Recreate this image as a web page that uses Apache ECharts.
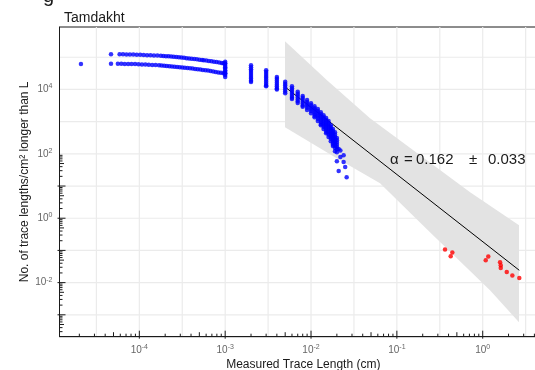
<!DOCTYPE html>
<html><head><meta charset="utf-8">
<script src="https://cdn.jsdelivr.net/npm/echarts@6/dist/echarts.min.js"></script>
<style>html,body{margin:0;padding:0;background:#fff}#c{width:535px;height:370px}</style>
</head><body><div id="c"></div>
<script>
// ---------- texts ----------
const titleText = 'Tamdakht';
const xAxisTitle = 'Measured Trace Length (cm)';
const yAxisTitle = 'No. of trace lengths/cm\u00B2 longer than L';
const xLabelExponents = [-4, -3, -2, -1, 0];
const yLabelExponents = [-2, 0, 2, 4];
const xGridValues = [-4.5, -4, -3.5, -3, -2.5, -2, -1.5, -1, -0.5, 0, 0.5];
const yGridValues = [-3, -2, -1, 0, 1, 2, 3, 4, 5];

// ---------- data, all as [log10 L (cm), log10 N (per cm2)] ----------
const blueIsolated = [[-4.68, 4.79], [-4.33, 5.09], [-4.33, 4.80]];
const blueBandUpper = [
  [-4.23,5.090],[-4.19,5.090],[-4.15,5.088],[-4.11,5.085],[-4.07,5.083],[-4.03,5.078],[-3.99,5.075],
  [-3.95,5.071],[-3.91,5.066],[-3.87,5.061],[-3.83,5.057],[-3.79,5.053],[-3.75,5.048],[-3.72,5.042],
  [-3.69,5.035],[-3.66,5.028],[-3.63,5.021],[-3.60,5.013],[-3.57,5.006],[-3.54,4.998],[-3.51,4.990],
  [-3.48,4.982],[-3.45,4.973],[-3.42,4.964],[-3.39,4.955],[-3.36,4.945],[-3.33,4.936],[-3.30,4.926],
  [-3.27,4.916],[-3.25,4.910],[-3.22,4.898],[-3.19,4.886],[-3.16,4.874],[-3.13,4.862],[-3.10,4.849],
  [-3.07,4.836],[-3.04,4.822],[-3.02,4.814],[-3.00,4.808]
];
const blueBandLower = [
  [-4.25,4.797],[-4.21,4.796],[-4.17,4.794],[-4.13,4.792],[-4.09,4.790],[-4.05,4.787],[-4.01,4.784],
  [-3.97,4.779],[-3.93,4.774],[-3.89,4.768],[-3.85,4.762],[-3.81,4.756],[-3.77,4.751],[-3.74,4.745],
  [-3.71,4.738],[-3.68,4.730],[-3.65,4.722],[-3.62,4.714],[-3.59,4.706],[-3.56,4.698],[-3.53,4.690],
  [-3.50,4.684],[-3.47,4.675],[-3.44,4.666],[-3.41,4.657],[-3.38,4.648],[-3.35,4.638],[-3.32,4.628],
  [-3.29,4.618],[-3.26,4.608],[-3.23,4.597],[-3.20,4.585],[-3.17,4.572],[-3.14,4.559],[-3.11,4.545],
  [-3.08,4.530],[-3.05,4.516],[-3.02,4.503],[-3.00,4.497]
];
// trace lengths measured in steps of 1e-3 cm: log10 L of each column and its log10 N values
const blueColumnL = [-3.0, -2.699, -2.523, -2.398, -2.301, -2.222, -2.155, -2.097, -2.046, -2.0,
  -1.959, -1.921, -1.886, -1.854, -1.824, -1.796, -1.770, -1.745, -1.721, -1.699, -1.678, -1.658, -1.620, -1.602, -1.585];
const blueColumnN = [
  [4.86,4.80,4.74,4.69,4.65,4.60,4.55,4.50,4.45,4.39],
  [4.75,4.69,4.63,4.57,4.51,4.45,4.39,4.33,4.27,4.23],
  [4.60,4.54,4.48,4.42,4.36,4.30,4.24,4.18,4.12,4.10],
  [4.39,4.33,4.27,4.21,4.15,4.09,4.03,4.00],
  [4.24,4.18,4.12,4.06,4.00,3.94,3.88],
  [4.10,4.04,3.98,3.92,3.86,3.80,3.74,3.70],
  [3.93,3.87,3.81,3.75,3.69,3.63,3.58],
  [3.80,3.74,3.68,3.62,3.56,3.50,3.46],
  [3.67,3.61,3.55,3.49,3.43,3.36],
  [3.57,3.51,3.45,3.39,3.33,3.26],
  [3.48,3.42,3.36,3.30,3.24,3.18,3.14],
  [3.39,3.33,3.27,3.21,3.15,3.09,3.02],
  [3.29,3.23,3.17,3.11,3.05,2.99,2.93,2.89],
  [3.20,3.14,3.08,3.02,2.96,2.90,2.84,2.77],
  [3.11,3.05,2.99,2.93,2.87,2.81,2.75,2.69,2.64],
  [3.02,2.96,2.90,2.84,2.78,2.72,2.66,2.60,2.52],
  [2.89,2.83,2.77,2.71,2.65,2.59,2.53,2.47,2.39],
  [2.77,2.71,2.65,2.59,2.53,2.47,2.41,2.35,2.29,2.24],
  [2.67,2.60,2.53,2.46,2.39,2.32,2.25,2.18,2.08],
  [2.49,2.42,2.35,2.28,2.21,2.14,2.05,1.77],
  [2.15,1.47],
  [2.10,1.90],
  [1.96,1.75],
  [1.59],
  [1.27]
];
const redPoints = [
  [-0.439,-0.974],[-0.354,-1.067],[-0.373,-1.182],[0.065,-1.191],[0.035,-1.306],[0.202,-1.368],
  [0.210,-1.461],[0.210,-1.546],[0.280,-1.670],[0.345,-1.782],[0.426,-1.856]
];
const fitLine = [[-2.295, 4.062], [0.426, -1.617]];
const bandUpper = [[-2.303,5.501],[-1.814,4.289],[-1.313,3.108],[-0.730,1.958],[-0.147,0.808],[0.423,-0.218]];
const bandLower = [[-2.303,2.828],[-1.720,1.896],[-1.196,1.087],[-0.614,-0.436],[0.085,-2.239],[0.423,-3.234]];
const alphaValue = '0.162';
const alphaError = '0.033';

// ---------- layout ----------
const XMIN = -4.93, XMAX = 0.75, YMIN = -3.68, YMAX = 5.94;
const FONT = '"Liberation Sans", Arial, Helvetica, sans-serif';
const LABEL_COLOR = '#666';

const blueData = [].concat(blueIsolated, blueBandUpper, blueBandLower);
blueColumnL.forEach((l, i) => blueColumnN[i].forEach(n => blueData.push([l, n])));

const chart = echarts.init(document.getElementById('c'), null, {renderer: 'canvas'});

function gridRender(params, api) {
  const ch = [];
  const st = {stroke: '#ebebeb', lineWidth: 1.2};
  xGridValues.forEach(v => {
    const a = api.coord([v, YMIN]), b = api.coord([v, YMAX]);
    ch.push({type: 'line', shape: {x1: a[0], y1: a[1], x2: b[0], y2: b[1]}, style: st});
  });
  yGridValues.forEach(v => {
    const a = api.coord([XMIN, v]), b = api.coord([XMAX, v]);
    ch.push({type: 'line', shape: {x1: a[0], y1: a[1], x2: b[0], y2: b[1]}, style: st});
  });
  return {type: 'group', children: ch};
}

function tickRender(params, api) {
  const ch = [];
  const st = {stroke: '#1a1a1a', lineWidth: 1};
  for (let d = -5; d <= 1; d++) {
    for (let k = 1; k <= 9; k++) {
      const v = d + Math.log10(k);
      const len = k === 1 ? 6 : (k === 5 ? 4.5 : 3);
      if (v > XMIN && v < XMAX) {
        const p = api.coord([v, YMIN]);
        ch.push({type: 'line', shape: {x1: p[0], y1: p[1] + (k === 1 ? 2 : 0), x2: p[0], y2: p[1] - len}, style: st});
      }
      if (v > YMIN && v < YMAX) {
        const p = api.coord([XMIN, v]);
        ch.push({type: 'line', shape: {x1: p[0] - (k === 1 ? 2 : 0), y1: p[1], x2: p[0] + len, y2: p[1]}, style: st});
      }
    }
  }
  return {type: 'group', children: ch};
}

function bandRender(params, api) {
  const pts = bandUpper.map(p => api.coord(p)).concat(bandLower.slice().reverse().map(p => api.coord(p)));
  return {type: 'polygon', shape: {points: pts}, style: {fill: '#e3e3e3', stroke: null}};
}

const supRich = {
  b: {fontSize: 10, color: LABEL_COLOR, fontFamily: FONT},
  s: {fontSize: 7, color: LABEL_COLOR, fontFamily: FONT, verticalAlign: 'bottom', padding: [0, 0, 6, 0]}
};

chart.setOption({
  animation: false,
  backgroundColor: '#fff',
  title: {text: titleText, left: 59, top: 6, textStyle: {fontSize: 14, fontWeight: 'normal', color: '#1a1a1a', fontFamily: FONT}},
  grid: {left: 59.5, top: 27, width: 487.6, height: 309.7, containLabel: false, outerBoundsMode: 'none',
    show: true, borderColor: '#1a1a1a', borderWidth: 1, backgroundColor: 'transparent'},
  xAxis: {
    type: 'value', min: XMIN, max: XMAX,
    splitLine: {show: false}, axisTick: {show: false},
    axisLine: {show: true, onZero: false, lineStyle: {color: '#1a1a1a', width: 1}},
    axisLabel: {customValues: xLabelExponents, margin: 7, formatter: v => '{b|10}{s|' + v + '}', rich: supRich},
    name: xAxisTitle, nameLocation: 'middle', nameGap: 22, nameMoveOverlap: false,
    nameTextStyle: {fontSize: 12, color: '#1a1a1a', fontFamily: FONT}
  },
  yAxis: {
    type: 'value', min: YMIN, max: YMAX,
    splitLine: {show: false}, axisTick: {show: false},
    axisLine: {show: true, onZero: false, lineStyle: {color: '#1a1a1a', width: 1}},
    axisLabel: {customValues: yLabelExponents, margin: 7, formatter: v => '{b|10}{s|' + v + '}', rich: supRich},
    name: yAxisTitle, nameLocation: 'middle', nameGap: 29, nameMoveOverlap: false,
    nameTextStyle: {fontSize: 12, color: '#1a1a1a', fontFamily: FONT}
  },
  graphic: [
    {type: 'text', z: 100, left: 43, top: -14, style: {text: 'g', fontSize: 20, fill: '#1a1a1a', fontFamily: FONT}},
    {type: 'text', z: 100, left: 390, top: 152, style: {text: '\u03B1', fontSize: 15, fill: '#1a1a1a', fontFamily: FONT}},
    {type: 'text', z: 100, left: 404, top: 152, style: {text: '=', fontSize: 15, fill: '#1a1a1a', fontFamily: FONT}},
    {type: 'text', z: 100, left: 416, top: 152, style: {text: alphaValue, fontSize: 15, fill: '#1a1a1a', fontFamily: FONT}},
    {type: 'text', z: 100, left: 469, top: 152, style: {text: '\u00B1', fontSize: 15, fill: '#1a1a1a', fontFamily: FONT}},
    {type: 'text', z: 100, left: 488, top: 152, style: {text: alphaError, fontSize: 15, fill: '#1a1a1a', fontFamily: FONT}}
  ],
  series: [
    {type: 'custom', renderItem: gridRender, data: [0], z: 0, silent: true, clip: false},
    {type: 'custom', renderItem: bandRender, data: [0], z: 1, silent: true},
    {type: 'line', data: fitLine, symbol: 'none', lineStyle: {color: '#000', width: 1}, z: 2, silent: true},
    {type: 'scatter', data: blueData, symbolSize: 4.5, itemStyle: {color: '#0000ff'}, z: 3, silent: true},
    {type: 'scatter', data: redPoints, symbolSize: 4.5, itemStyle: {color: '#ff0000'}, z: 3, silent: true},
    {type: 'custom', renderItem: tickRender, data: [0], z: 5, silent: true, clip: false}
  ]
});
</script></body></html>
